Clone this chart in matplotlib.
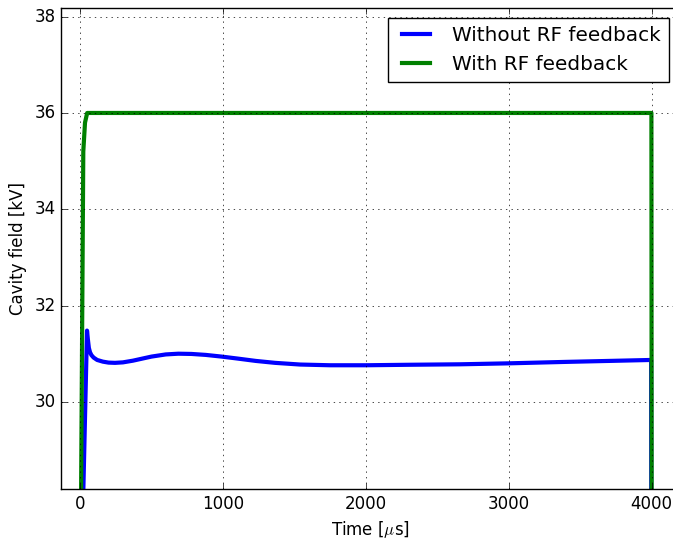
import matplotlib
matplotlib.use("Agg")
import matplotlib.pyplot as plt

# time in microseconds, cavity field in kV
time_without = [0, 22, 49, 55, 62, 70, 80, 95, 120, 160, 200, 245, 300, 370, 431, 500,
                600, 688, 780, 880, 991, 1100, 1230, 1365, 1540, 1750, 2000, 2300,
                2660, 3000, 3400, 3700, 3996, 4006]
field_without = [0, 28.0, 31.48, 31.30, 31.12, 31.03, 30.97, 30.92, 30.87, 30.835, 30.815,
                 30.81, 30.82, 30.855, 30.895, 30.94, 30.985, 31.0, 30.995, 30.975,
                 30.94, 30.9, 30.85, 30.81, 30.775, 30.76, 30.76, 30.77, 30.78,
                 30.80, 30.83, 30.85, 30.87, 0]

time_with = [0, 5, 23, 35, 50, 60, 1000, 2000, 3000, 3998, 4006]
field_with = [0, 27.0, 35.2, 35.8, 36.0, 36.0, 36.0, 36.0, 36.0, 36.0, 0]


def main() -> None:
    plt.style.use("classic")
    fig = plt.figure(figsize=(6.73, 5.40), dpi=100)
    ax = fig.add_axes([61 / 673, 51 / 540, (679 - 61) / 673, (489 - 8) / 540])

    ax.plot(time_without, field_without, color="b", linewidth=3, label="Without RF feedback")
    ax.plot(time_with, field_with, color="g", linewidth=3, label="With RF feedback")

    ax.set_xlim(-133, 4191)
    ax.set_ylim(28.19, 38.18)
    ax.set_xticks([0, 1000, 2000, 3000, 4000])
    ax.set_yticks([30, 32, 34, 36, 38])
    ax.grid(True)

    ax.set_xlabel(r"Time [$\mu$s]")
    ax.set_ylabel("Cavity field [kV]")
    ax.legend(loc="upper right")

    fig.savefig("out.png", dpi=100)


if __name__ == "__main__":
    main()
